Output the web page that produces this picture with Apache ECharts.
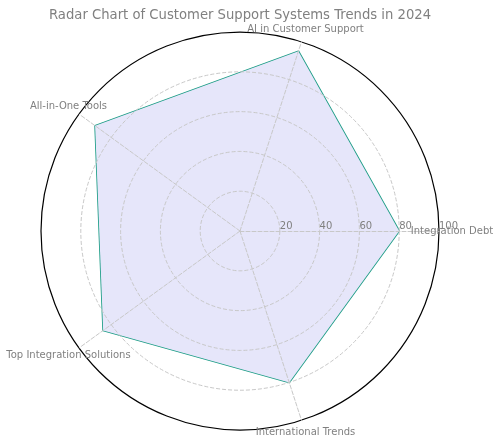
<!DOCTYPE html>
<html><head><meta charset="utf-8">
<script src="https://cdn.jsdelivr.net/npm/echarts@6/dist/echarts.min.js"></script>
<style>html,body{margin:0;padding:0;background:#fff}#c{width:500px;height:446px}</style>
</head><body><div id="c"></div>
<script>
const categories = ['Integration Debt', 'AI in Customer Support', 'All-in-One Tools', 'Top Integration Solutions', 'International Trends'];
const values = [80, 95, 90, 85, 80];
const tickMax = 100;
const titleText = 'Radar Chart of Customer Support Systems Trends in 2024';

const font = 'DejaVu Sans';
const textGray = '#808080';
const center = ['48%', '51.8%'];
const radius = 199;

const chart = echarts.init(document.getElementById('c'), null, {renderer: 'canvas'});
chart.setOption({
  animation: false,
  backgroundColor: '#fff',
  title: {
    text: titleText, left: 44, top: 4,
    textStyle: {fontFamily: font, fontSize: 13.2, fontWeight: 'normal', color: textGray}
  },
  radar: [
    {
      z: 3,
      shape: 'circle', center: center, radius: radius, startAngle: 0,
      splitNumber: 5,
      indicator: categories.map(n => ({name: n, min: 0, max: tickMax})),
      axisName: {color: textGray, fontFamily: font, fontSize: 10, align: 'center', verticalAlign: 'middle'},
      nameGap: 13,
      axisLine: {show: true, lineStyle: {color: '#c8c8c8', type: 'dashed', width: 1}},
      splitLine: {show: true, lineStyle: {color: ['#c8c8c8','#c8c8c8','#c8c8c8','#c8c8c8','#c8c8c8','rgba(0,0,0,0)'], type: 'dashed', width: 1}},
      splitArea: {show: false},
      axisTick: {show: false},
      axisLabel: {show: false}
    },
    {
      z: 3,
      shape: 'circle', center: center, radius: radius, startAngle: 0,
      splitNumber: 5,
      indicator: categories.map((n, i) => i === 0
        ? {name: '', min: 0, max: tickMax, axisLabel: {show: true}}
        : {name: '', min: 0, max: tickMax}),
      axisName: {show: false},
      axisLine: {show: false},
      splitLine: {show: true, lineStyle: {color: ['rgba(0,0,0,0)','rgba(0,0,0,0)','rgba(0,0,0,0)','rgba(0,0,0,0)','rgba(0,0,0,0)','#000'], type: 'solid', width: 1.2}},
      splitArea: {show: false},
      axisTick: {show: false},
      axisLabel: {show: false, showMinLabel: false, color: textGray, fontFamily: font, fontSize: 10, margin: 0, align: 'left', verticalAlign: 'bottom'}
    }
  ],
  series: [{
    type: 'radar',
    z: 1,
    radarIndex: 0,
    symbol: 'none',
    lineStyle: {color: '#1a9c85', width: 1.7},
    areaStyle: {color: '#e6e6fa', opacity: 1},
    data: [{value: values, name: 'Trends'}]
  }]
});
</script></body></html>
